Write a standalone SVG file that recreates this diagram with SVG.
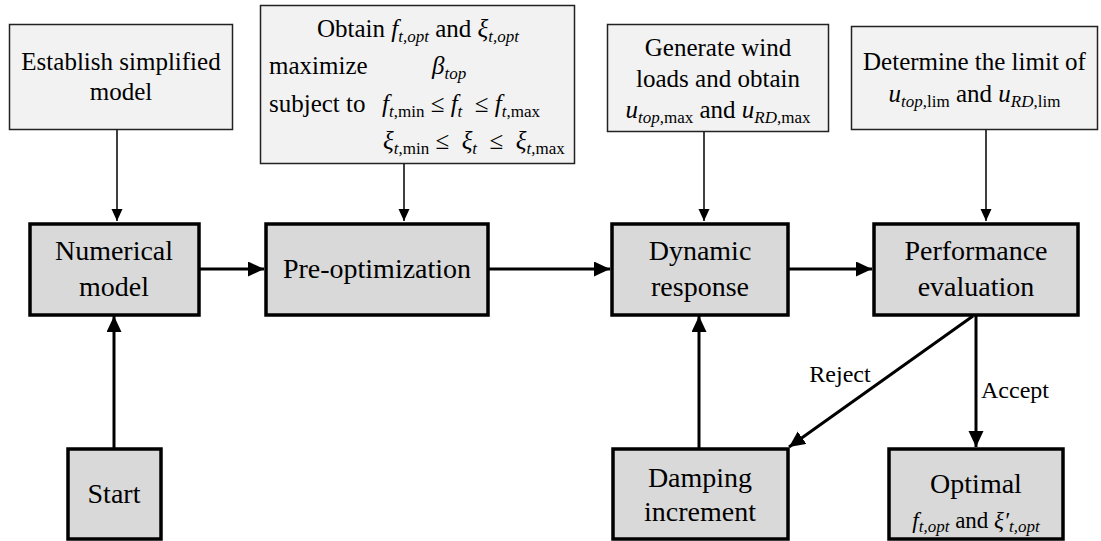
<svg xmlns="http://www.w3.org/2000/svg" width="1101" height="541" viewBox="0 0 1101 541" font-family="Liberation Serif">
  <defs>
    <style>
      text { font-family: "Liberation Serif", serif; fill: #000; }
      .main { font-size: 28px; text-anchor: middle; }
      .top { font-size: 25px; }
      .mid { text-anchor: middle; }
      .lbl { font-size: 24px; }
      .i { font-style: italic; }
      .s { font-size: 17px; }
      .note rect { fill: #f2f2f2; stroke: #222; stroke-width: 1.5; }
      .step rect { fill: #d9d9d9; stroke: #000; stroke-width: 3.5; }
      .thin { stroke: #000; stroke-width: 1.5; fill: none; marker-end: url(#headS); }
      .thick { stroke: #000; stroke-width: 3; fill: none; marker-end: url(#headL); }
    </style>
    <marker id="headS" markerUnits="userSpaceOnUse" markerWidth="12" markerHeight="12" refX="12" refY="5.5" orient="auto">
      <path d="M0,0 L12,5.5 L0,11 Z" fill="#000"/>
    </marker>
    <marker id="headL" markerUnits="userSpaceOnUse" markerWidth="16" markerHeight="16" refX="16" refY="7.5" orient="auto">
      <path d="M0,0 L16,7.5 L0,15 Z" fill="#000"/>
    </marker>
  </defs>

  <rect width="1101" height="541" fill="#fff"/>

  <!-- connectors -->
  <g id="connectors">
    <line class="thin" x1="117" y1="130" x2="117" y2="221"/>
    <line class="thin" x1="404" y1="164" x2="404" y2="221"/>
    <line class="thin" x1="704" y1="132" x2="704" y2="221"/>
    <line class="thin" x1="986" y1="130" x2="986" y2="221"/>
    <line class="thick" x1="199" y1="269" x2="264" y2="269"/>
    <line class="thick" x1="488" y1="269" x2="610" y2="269"/>
    <line class="thick" x1="788" y1="269" x2="872" y2="269"/>
    <line class="thick" x1="114" y1="448" x2="114" y2="316"/>
    <line class="thick" x1="699" y1="448" x2="699" y2="316"/>
    <line class="thick" x1="976" y1="315" x2="976" y2="447"/>
    <line class="thick" x1="973" y1="316" x2="789" y2="447"/>
    <text class="lbl mid" x="840" y="382">Reject</text>
    <text class="lbl" x="981" y="398">Accept</text>
  </g>

  <!-- input notes -->
  <g id="establish" class="note">
    <rect x="9.5" y="24.5" width="223" height="105"/>
    <text class="top mid" x="121" y="70">Establish simplified</text>
    <text class="top mid" x="121" y="100">model</text>
  </g>

  <g id="obtain" class="note">
    <rect x="260.5" y="5.5" width="314" height="158"/>
    <text class="top" x="317" y="37">Obtain <tspan class="i">f</tspan><tspan class="s i" dy="5">t,opt</tspan><tspan dy="-5"> and </tspan><tspan class="i">ξ</tspan><tspan class="s i" dy="5">t,opt</tspan></text>
    <text class="top" x="269" y="74">maximize</text>
    <text class="top" x="432" y="74"><tspan class="i">β</tspan><tspan class="s i" dy="5">top</tspan></text>
    <text class="top" x="269" y="112">subject to</text>
    <text class="top" x="382" y="112"><tspan class="i">f</tspan><tspan class="s" dy="5"><tspan class="i">t</tspan>,min</tspan><tspan dy="-5"> ≤ </tspan><tspan class="i">f</tspan><tspan class="s i" dy="5">t</tspan><tspan dy="-5"> &#160;≤ </tspan><tspan class="i">f</tspan><tspan class="s" dy="5"><tspan class="i">t</tspan>,max</tspan></text>
    <text class="top" x="383" y="149"><tspan class="i">ξ</tspan><tspan class="s" dy="5"><tspan class="i">t</tspan>,min</tspan><tspan dy="-5"> ≤ &#160;</tspan><tspan class="i">ξ</tspan><tspan class="s i" dy="5">t</tspan><tspan dy="-5"> &#160;≤ &#160;</tspan><tspan class="i">ξ</tspan><tspan class="s" dy="5"><tspan class="i">t</tspan>,max</tspan></text>
  </g>

  <g id="generate" class="note">
    <rect x="607.5" y="24.5" width="221" height="107"/>
    <text class="top mid" x="718" y="56">Generate wind</text>
    <text class="top mid" x="718" y="87">loads and obtain</text>
    <text class="top mid" x="718" y="118"><tspan class="i">u</tspan><tspan class="s" dy="5"><tspan class="i">top</tspan>,max</tspan><tspan dy="-5"> and </tspan><tspan class="i">u</tspan><tspan class="s" dy="5"><tspan class="i">RD</tspan>,max</tspan></text>
  </g>

  <g id="determine" class="note">
    <rect x="851.5" y="26.5" width="246" height="103"/>
    <text class="top mid" x="974.5" y="70">Determine the limit of</text>
    <text class="top mid" x="974.5" y="102"><tspan class="i">u</tspan><tspan class="s" dy="5"><tspan class="i">top</tspan>,lim</tspan><tspan dy="-5"> and </tspan><tspan class="i">u</tspan><tspan class="s" dy="5"><tspan class="i">RD</tspan>,lim</tspan></text>
  </g>

  <!-- process steps -->
  <g id="numerical" class="step">
    <rect x="30" y="224" width="169" height="91"/>
    <text class="main" x="114" y="260">Numerical</text>
    <text class="main" x="114" y="296">model</text>
  </g>

  <g id="preopt" class="step">
    <rect x="266" y="224" width="222" height="91"/>
    <text class="main" x="377" y="278">Pre-optimization</text>
  </g>

  <g id="dynamic" class="step">
    <rect x="612" y="224" width="176" height="91"/>
    <text class="main" x="700" y="260">Dynamic</text>
    <text class="main" x="700" y="296">response</text>
  </g>

  <g id="performance" class="step">
    <rect x="874" y="224" width="204" height="91"/>
    <text class="main" x="976" y="260">Performance</text>
    <text class="main" x="976" y="296">evaluation</text>
  </g>

  <g id="start" class="step">
    <rect x="68" y="449" width="93" height="90"/>
    <text class="main" x="114" y="503">Start</text>
  </g>

  <g id="damping" class="step">
    <rect x="613" y="449" width="175" height="90"/>
    <text class="main" x="700" y="487">Damping</text>
    <text class="main" x="700" y="521">increment</text>
  </g>

  <g id="optimal" class="step">
    <rect x="889" y="449" width="174" height="90"/>
    <text class="main" x="976" y="493">Optimal</text>
    <text class="main" x="976" y="528" style="font-size:23px"><tspan class="i">f</tspan><tspan class="s i" dy="4">t,opt</tspan><tspan dy="-4"> and </tspan><tspan class="i">ξ′</tspan><tspan class="s i" dy="4">t,opt</tspan></text>
  </g>
</svg>
